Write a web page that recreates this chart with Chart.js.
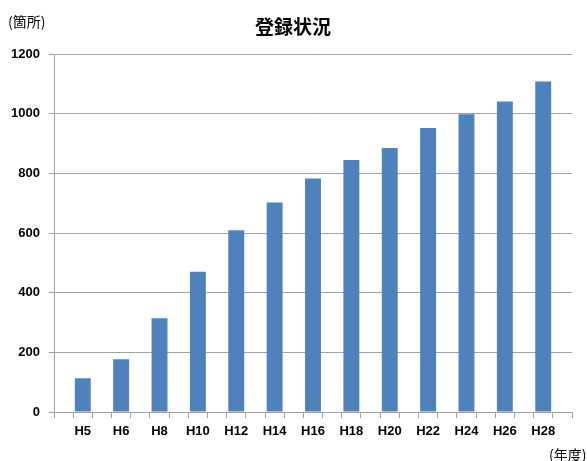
<!DOCTYPE html>
<html lang="ja"><head><meta charset="UTF-8">
<title>登録状況</title>
<script src="https://cdn.jsdelivr.net/npm/chart.js@4/dist/chart.umd.min.js"></script>
<style>*{margin:0;padding:0}body{background:#fff}canvas{display:block}</style>
</head><body>
<canvas id="c" width="587" height="461"></canvas>
<script>
var categories = ["H5","H6","H8","H10","H12","H14","H16","H18","H20","H22","H24","H26","H28"];
var counts = [113,177,314,470,609,702,783,845,885,952,998,1041,1108];
var yTicks = [0,200,400,600,800,1000,1200];
var titleText = "登録状況";
var yUnit = "(箇所)";
var xUnit = "(年度)";

var barColor = "#4f81bd";
var gridColor = "#a0a0a0";
var tickFont = {family:"'Liberation Sans', Arial, sans-serif", size:13, weight:"bold"};
var cjk = "'Noto Sans CJK JP', sans-serif";

// the axis has an empty half-slot between the years, so years go in every other slot
var slotLabels = [""], slotValues = [null];
categories.forEach(function(c, i){ slotLabels.push(c, ""); slotValues.push(counts[i], null); });

var textPlugin = {
  id: "texts",
  afterDraw: function(chart){
    var ctx = chart.ctx;
    ctx.save();
    ctx.fillStyle = "#000";
    ctx.textBaseline = "middle";
    ctx.textAlign = "center";
    ctx.font = "bold 19px " + cjk;
    ctx.fillText(titleText, 293, 27);
    ctx.textAlign = "left";
    ctx.font = "14px " + cjk;
    ctx.fillText(yUnit, 8, 22);
    ctx.fillText(xUnit, 549, 455);
    ctx.restore();
  }
};

new Chart(document.getElementById("c"), {
  type: "bar",
  data: {
    labels: slotLabels,
    datasets: [{data: slotValues, backgroundColor: barColor, borderWidth: 0, barPercentage: 0.83, categoryPercentage: 1}]
  },
  options: {
    responsive: false,
    animation: false,
    layout: {padding: {top: 54, right: 15, left: 0, bottom: 0}},
    plugins: {legend: {display: false}, tooltip: {enabled: false}},
    scales: {
      x: {
        afterFit: function(s){ s.height = 49; },
        grid: {offset: true, drawOnChartArea: false, color: gridColor, tickLength: 6},
        border: {color: gridColor},
        ticks: {autoSkip: false, maxRotation: 0, padding: 6, color: "#000", font: tickFont}
      },
      y: {
        min: 0, max: 1200,
        afterFit: function(s){ s.width = 54; },
        afterBuildTicks: function(s){ s.ticks = yTicks.map(function(v){ return {value: v}; }); },
        grid: {color: gridColor, tickLength: 5},
        border: {color: gridColor},
        ticks: {padding: 9, color: "#000", font: tickFont, callback: function(v){ return String(v); }}
      }
    }
  },
  plugins: [textPlugin]
});
</script>
</body></html>
